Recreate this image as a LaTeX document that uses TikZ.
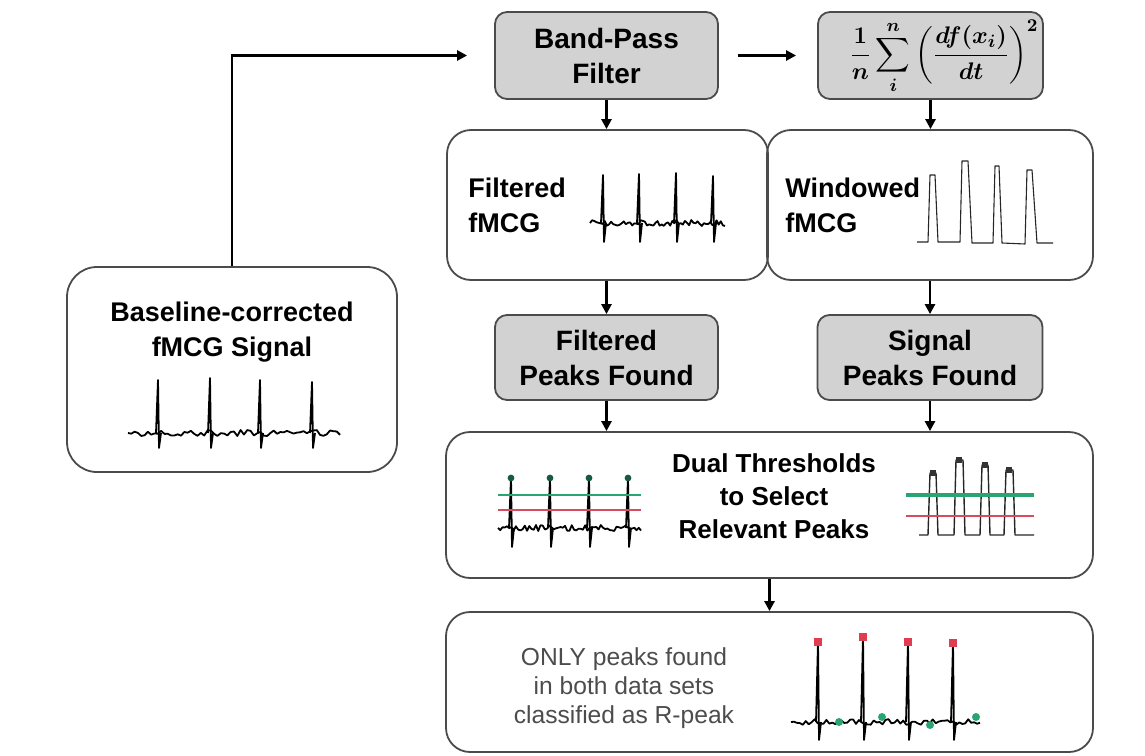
\documentclass[tikz,border=0pt]{standalone}
\usepackage{amsmath}
\usepackage{fontspec}
\setmainfont{Liberation Sans}
\usetikzlibrary{arrows.meta, positioning}

\definecolor{boxgray}{RGB}{210,210,210}
\definecolor{edgegray}{RGB}{75,75,75}
\definecolor{thrgreen}{RGB}{40,165,115}
\definecolor{thrred}{RGB}{215,75,95}
\definecolor{peakred}{RGB}{225,60,80}

\tikzset{
  graybox/.style={draw=edgegray, line width=0.9pt, fill=boxgray, rounded corners=6pt,
    inner sep=0pt, minimum height=43.5pt, align=center,
    font=\bfseries\fontsize{14}{17.5}\selectfont},
  bigbox/.style={draw=edgegray, line width=0.9pt, rounded corners=12pt, inner sep=0pt},
  boxtext/.style={inner sep=0pt, font=\bfseries\fontsize{13.5}{17.5}\selectfont},
  flow/.style={-{Triangle[length=5pt,width=5pt]}, line width=1.4pt},
  trace/.style={line width=0.9pt, line join=round},
  pulse/.style={line width=0.55pt, black!85, line join=round},
}

% noisy ecg: start x, end x, baseline y, dip y, spikes x/top
\newcommand{\ecgtrace}[5]{%
  \draw[trace] (#1,#3) \foreach \k in {1,...,64}{ -- ({#1+\k*(#2-#1)/64},{#3+3*rand}) };
  \foreach \s/\h in {#5}{ \draw[trace] (\s-2,#3) -- (\s,\h) -- (\s+1,#4) -- (\s+3,#3); }
}

\begin{document}
\begin{tikzpicture}[x=0.5pt, y=-0.5pt]
    \pgfmathsetseed{7}
    \useasboundingbox (0,0) rectangle (1145,755);

    % Processing boxes
    \node[graybox, minimum width=111.5pt] (bp) at (606.5,55.5) {Band-Pass\\Filter};
    \node[graybox, minimum width=112.5pt] (frm) at (930.5,55.5) {};
    \node[inner sep=0pt, font=\boldmath\fontsize{12.5}{15}\selectfont] (frmtxt) at (944,57)
        {$\displaystyle \frac{1}{n}\sum_{i}^{n}\left(\frac{df(x_i)}{dt}\right)^{2}$};
    \node[graybox, minimum width=111.5pt, minimum height=42.5pt] (fpk) at (606.5,357.5) {Filtered\\Peaks Found};
    \node[graybox, minimum width=112.5pt, minimum height=42.5pt] (spk) at (930,357.5) {Signal\\Peaks Found};

    % Signal boxes
    \node[bigbox, rounded corners=15pt, minimum width=165pt, minimum height=102.5pt] (base) at (232,369.5) {};
    \node[bigbox, minimum width=160.5pt, minimum height=75pt] (filt) at (607.5,205) {};
    \node[bigbox, minimum width=163pt, minimum height=75pt] (wind) at (930,205) {};
    \node[bigbox, minimum width=323.5pt, minimum height=73pt] (dual) at (769.5,505) {};
    \node[bigbox, minimum width=323.5pt, minimum height=70pt] (final) at (769.5,682) {};

    % Texts
    \node[boxtext, align=center] (basetxt) at (232,332) {Baseline-corrected\\fMCG Signal};
    \node[boxtext, anchor=west, align=left] (filttxt) at (468,205.5) {Filtered\\fMCG};
    \node[boxtext, anchor=west, align=left] (windtxt) at (785,205) {Windowed\\fMCG};
    \node[boxtext, align=center, font=\bfseries\fontsize{13}{16.5}\selectfont] (dualtxt) at (774,496)
        {Dual Thresholds\\to Select\\Relevant Peaks};
    \node[inner sep=0pt, align=center, black!70, font=\fontsize{12.3}{14.5}\selectfont] (fintxt) at (624,688)
        {ONLY peaks found\\in both data sets\\classified as R-peak};

    % Flow
    \draw[flow, shorten >=13.5pt] (base.north) |- (bp.west);
    \draw[flow, shorten <=9.5pt, shorten >=10.5pt] (bp) -- (frm);
    \draw[flow] (bp.south) -- (bp.south |- filt.north);
    \draw[flow] (frm.south) -- (frm.south |- wind.north);
    \draw[flow] (fpk.north |- filt.south) -- (fpk.north);
    \draw[flow] (spk.north |- wind.south) -- (spk.north);
    \draw[flow] (fpk.south) -- (fpk.south |- dual.north);
    \draw[flow] (spk.south) -- (spk.south |- dual.north);
    \draw[flow] (dual.south) -- (final.north);

    % Raw and filtered ecg
    \ecgtrace{128}{340}{433}{448}{158/380,210/378,260/380,312/382}
    \ecgtrace{590}{725}{223}{242}{603/175,639/174,676/173,713/176}

    % Windowed signal
    \draw[pulse] (917,242) -- (928,242) -- (930,175) -- (935,175) -- (938,242) -- (960,242)
        -- (962,161) -- (968,161) -- (972,243) -- (993,243) -- (995,166) -- (999,166)
        -- (1002,243) -- (1025,244) -- (1027,170) -- (1032,170) -- (1037,243) -- (1053,243);

    % Thresholds on filtered ecg
    \ecgtrace{498}{641}{528}{547}{511/478,550/478,589/478,628/478}
    \draw[thrgreen, line width=1pt] (498,495) -- (641,495);
    \draw[thrred, line width=1pt] (498,510) -- (641,510);
    \foreach \s in {511,550,589,628}
        \fill[thrgreen!55!black] (\s,478) circle (1.7pt);

    % Thresholds on windowed signal
    \draw[pulse, line width=0.7pt] (919,535) -- (928,535) -- (930,473) -- (936,473) -- (938,535)
        -- (954,535) -- (956,460) -- (963,460) -- (965,535) -- (980,535) -- (982,465)
        -- (988,465) -- (990,535) -- (1004,535) -- (1006,470) -- (1013,470) -- (1015,535) -- (1034,535);
    \draw[thrgreen, line width=1.6pt] (906,495) -- (1034,495);
    \draw[thrred, line width=1pt] (906,516) -- (1034,516);
    \foreach \s/\h in {933/473,959/460,985/465,1009/470}
        \fill[black!80] (\s-3,\h-3) rectangle (\s+3,\h+3);

    % Classified R-peaks
    \ecgtrace{791}{980}{722}{740}{818/642,863/637,908/642,953/643}
    \foreach \s/\h in {818/642,863/637,908/642,953/643}
        \fill[peakred] (\s-4,\h-4) rectangle (\s+4,\h+4);
    \foreach \s/\h in {839/722,882/717,930/725,976/717}
        \fill[thrgreen] (\s,\h) circle (2pt);

\end{tikzpicture}
\end{document}
